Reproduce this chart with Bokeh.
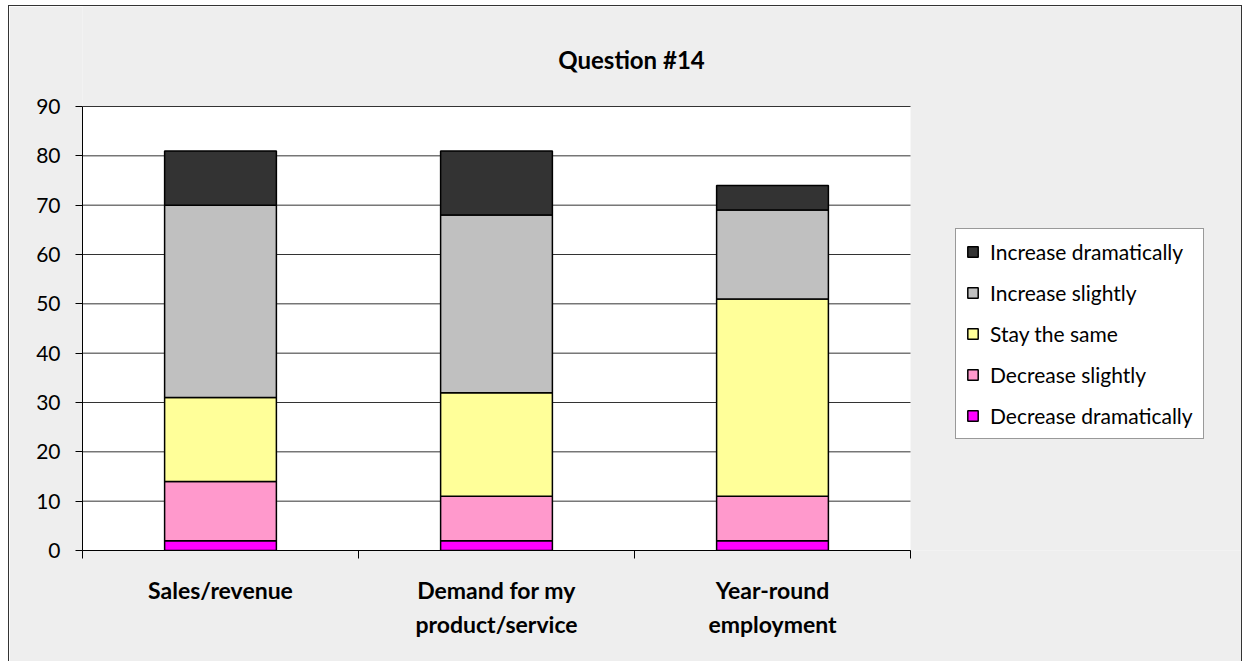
from bokeh.plotting import figure
from bokeh.models import (Range1d, FixedTicker, Legend, LegendItem, Label, ColumnDataSource, LinearAxis)
from bokeh.embed import file_html
from bokeh.resources import INLINE

categories = ["Sales/revenue", "Demand for my\nproduct/service", "Year-round\nemployment"]
series_names = ["Decrease dramatically", "Decrease slightly", "Stay the same",
                "Increase slightly", "Increase dramatically"]
decrease_dramatically = [2, 2, 2]
decrease_slightly = [12, 9, 9]
stay_the_same = [17, 21, 40]
increase_slightly = [39, 36, 18]
increase_dramatically = [11, 13, 5]
colors = ["#FF00FF", "#FF99CC", "#FFFF99", "#C0C0C0", "#333333"]
y_ticks = [0, 10, 20, 30, 40, 50, 60, 70, 80, 90]

FONT = "Lato"
N = len(categories)
YMAX = y_ticks[-1]

# layout in pixels (frame covers everything right of the y axis and above the x axis)
W, H = 1232, 655
LEFT, BOTTOM = 73, 111
PLOT_W, PLOT_H = 828, 444
frame_w = W - LEFT
frame_h = H - BOTTOM

xs = [i + 0.5 for i in range(N)]
data = dict(x=xs)
for name, vals in zip(series_names, [decrease_dramatically, decrease_slightly, stay_the_same,
                                     increase_slightly, increase_dramatically]):
    data[name] = vals
src = ColumnDataSource(data)

p = figure(width=W, height=H, output_backend="svg", toolbar_location=None,
           x_range=Range1d(0, N * frame_w / PLOT_W), y_range=Range1d(0, YMAX * frame_h / PLOT_H),
           min_border_left=LEFT, min_border_right=0, min_border_top=0, min_border_bottom=BOTTOM)
p.margin = (6, 0, 0, 9)
p.styles = {"outline": "1px solid #333333"}
p.background_fill_color = "#EEEEEE"
p.border_fill_color = "#EEEEEE"
p.outline_line_color = None

# white plot area and gridlines
p.quad(left=0, right=N, bottom=0, top=YMAX, fill_color="white", line_color=None, level="underlay")
p.segment(x0=[0] * len(y_ticks), x1=[N] * len(y_ticks), y0=y_ticks, y1=y_ticks,
          line_color="#333333", line_width=1, level="underlay")

renderers = p.vbar_stack(series_names, x="x", width=0.405, source=src, color=colors,
                         line_color="black", line_width=1.5)

# category labels split over two stacked axes (first and second lines)
lines1 = [c.split("\n")[0] for c in categories]
lines2 = [c.split("\n")[1] if "\n" in c else "" for c in categories]

xa = p.xaxis[0]
xa.bounds = (0, N)
xa.ticker = FixedTicker(ticks=xs, minor_ticks=list(range(N + 1)))
xa.major_label_overrides = {x: c for x, c in zip(xs, lines1)}
xa.major_tick_out = 0
xa.major_tick_in = 0
xa.minor_tick_out = 8
xa.minor_tick_in = 0
xa.minor_tick_line_color = "black"
xa.axis_line_color = "black"
xa.major_label_text_font = FONT
xa.major_label_text_font_style = "bold"
xa.major_label_text_font_size = "23px"
xa.major_label_text_color = "black"
xa.major_label_standoff = 17

xa2 = LinearAxis(ticker=FixedTicker(ticks=xs), major_label_overrides={x: c for x, c in zip(xs, lines2)})
xa2.axis_line_color = None
xa2.major_tick_line_color = None
xa2.minor_tick_line_color = None
xa2.major_tick_out = 0
xa2.major_label_text_font = FONT
xa2.major_label_text_font_style = "bold"
xa2.major_label_text_font_size = "23px"
xa2.major_label_text_color = "black"
xa2.major_label_standoff = 3
p.add_layout(xa2, "below")

ya = p.yaxis[0]
ya.bounds = (0, YMAX)
ya.ticker = FixedTicker(ticks=y_ticks)
ya.minor_tick_line_color = None
ya.major_tick_out = 7
ya.major_tick_in = 0
ya.major_tick_line_color = "black"
ya.axis_line_color = "black"
ya.major_label_text_font = FONT
ya.major_label_text_font_size = "21px"
ya.major_label_text_color = "black"
ya.major_label_standoff = 15

p.xgrid.grid_line_color = None
p.ygrid.grid_line_color = None

# title (screen units relative to frame bottom-left)
title = Label(x=549, y=491, x_units="screen", y_units="screen", text="Question #14",
              text_font=FONT, text_font_style="bold", text_font_size="24px",
              text_align="center", text_baseline="middle", text_color="black")
p.add_layout(title)

items = [LegendItem(label=n, renderers=[r]) for n, r in zip(series_names, renderers)][::-1]
legend = Legend(items=items, location=(873, 111), border_line_color="#333333",
                border_line_width=1, background_fill_color="white", background_fill_alpha=1,
                label_text_font=FONT, label_text_font_size="21px", label_text_color="black",
                glyph_width=13, glyph_height=13, label_height=25, spacing=16,
                padding=10, margin=0, label_standoff=11)
p.add_layout(legend, "center")

open("out.html", "w").write(file_html(p, INLINE))
